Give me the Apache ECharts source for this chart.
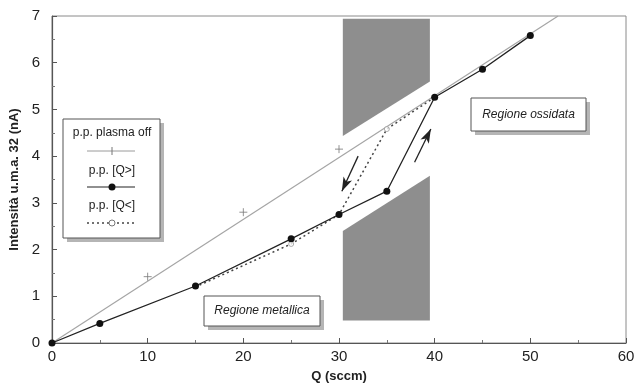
<!DOCTYPE html>
<html><head><meta charset="utf-8">
<script src="https://cdn.jsdelivr.net/npm/echarts@6/dist/echarts.min.js"></script>
<style>html,body{margin:0;padding:0;background:#fff}#c{width:637px;height:383px}</style>
</head><body><div id="c"></div>
<script>
// ---- data ----
var xTicks = [0, 10, 20, 30, 40, 50, 60];
var yTicks = [0, 1, 2, 3, 4, 5, 6, 7];
var plasmaOffX = [10, 20, 30];
var plasmaOffY = [1.42, 2.8, 4.15];
var plasmaFitX = [0, 52.9];
var plasmaFitY = [0, 7];
var qUpX = [0, 5, 15, 25, 30, 35, 40, 45, 50];
var qUpY = [0, 0.42, 1.22, 2.23, 2.75, 3.25, 5.26, 5.86, 6.58];
var qDownX = [40, 35, 30, 25, 15];
var qDownY = [5.26, 4.58, 2.75, 2.12, 1.2];
var qDownMarkX = [35, 25];
var qDownMarkY = [4.58, 2.12];
var shadeUpperX = [30.4, 39.5, 39.5, 30.4];
var shadeUpperY = [6.94, 6.94, 5.6, 4.43];
var shadeLowerX = [30.4, 39.5, 39.5, 30.4];
var shadeLowerY = [2.4, 3.58, 0.48, 0.48];
var arrowDown = [[32.0, 4.0], [30.3, 3.25]];
var arrowUp = [[37.9, 3.87], [39.6, 4.58]];

function zip(a, b) { return a.map(function (v, i) { return [v, b[i]]; }); }

var chart = echarts.init(document.getElementById('c'), null, {renderer: 'canvas'});
var font = 'Liberation Sans, Arial, sans-serif';

function polySeries(xs, ys) {
  return {
    type: 'custom', silent: true, z: 1,
    data: [[0]],
    renderItem: function (params, api) {
      var pts = xs.map(function (x, i) { return api.coord([x, ys[i]]); });
      return {type: 'polygon', shape: {points: pts}, style: {fill: '#8e8e8e'}};
    }
  };
}

function boxedText(x, y, w, h, txt, italic) {
  return [
    {type: 'rect', shape: {x: x + 4, y: y + 4, width: w, height: h}, style: {fill: '#b5b5b5'}, z: 10},
    {type: 'rect', shape: {x: x, y: y, width: w, height: h}, style: {fill: '#fff', stroke: '#555', lineWidth: 1}, z: 11},
    {type: 'text', x: x + w / 2, y: y + h / 2, z: 12,
      style: {text: txt, fill: '#222', font: (italic ? 'italic ' : '') + '12px ' + font, textAlign: 'center', textVerticalAlign: 'middle'}}
  ];
}

var legendEls = [].concat(
  boxedText(63, 119, 97, 119, '', false),
  [
    {type: 'text', x: 112, y: 133, z: 12, style: {text: 'p.p. plasma off', fill: '#222', font: '12px ' + font, textAlign: 'center', textVerticalAlign: 'middle'}},
    {type: 'line', shape: {x1: 87, y1: 151, x2: 135, y2: 151}, style: {stroke: '#9a9a9a', lineWidth: 1}, z: 12},
    {type: 'line', shape: {x1: 112, y1: 147, x2: 112, y2: 155}, style: {stroke: '#777', lineWidth: 1}, z: 12},
    {type: 'text', x: 112, y: 171, z: 12, style: {text: 'p.p. [Q>]', fill: '#222', font: '12px ' + font, textAlign: 'center', textVerticalAlign: 'middle'}},
    {type: 'line', shape: {x1: 87, y1: 187, x2: 135, y2: 187}, style: {stroke: '#222', lineWidth: 1.2}, z: 12},
    {type: 'circle', shape: {cx: 112, cy: 187, r: 3.5}, style: {fill: '#111'}, z: 12},
    {type: 'text', x: 112, y: 206, z: 12, style: {text: 'p.p. [Q<]', fill: '#222', font: '12px ' + font, textAlign: 'center', textVerticalAlign: 'middle'}},
    {type: 'line', shape: {x1: 87, y1: 223, x2: 135, y2: 223}, style: {stroke: '#444', lineWidth: 1.3, lineDash: [2, 3]}, z: 12},
    {type: 'circle', shape: {cx: 112, cy: 223, r: 3}, style: {fill: '#fff', stroke: '#777', lineWidth: 1}, z: 13}
  ],
  boxedText(471, 98, 115, 33, 'Regione ossidata', true),
  boxedText(204, 296, 116, 30, 'Regione metallica', true)
);

var option = {
  animation: false,
  backgroundColor: '#fff',
  grid: {left: 52, right: 11, top: 16, bottom: 40, show: true, borderColor: '#8a8a8a', borderWidth: 1,
    containLabel: false, outerBoundsMode: 'none'},
  xAxis: {
    type: 'value', min: xTicks[0], max: xTicks[xTicks.length - 1], interval: 10,
    name: 'Q (sccm)', nameLocation: 'middle', nameGap: 27,
    nameTextStyle: {fontFamily: font, fontSize: 13, fontWeight: 'bold', color: '#222'},
    axisLine: {lineStyle: {color: '#555', width: 1.2}},
    axisTick: {inside: true, length: 5, lineStyle: {color: '#555'}},
    minorTick: {show: true, splitNumber: 2, length: 3, lineStyle: {color: '#777'}},
    axisLabel: {fontFamily: font, fontSize: 15, color: '#222', margin: 6},
    splitLine: {show: false}
  },
  yAxis: {
    type: 'value', min: yTicks[0], max: yTicks[yTicks.length - 1], interval: 1,
    name: 'Intensità u.m.a. 32 (nA)', nameLocation: 'middle', nameGap: 28, nameRotate: 90,
    nameTextStyle: {fontFamily: font, fontSize: 13, fontWeight: 'bold', color: '#222'},
    axisLine: {show: true, lineStyle: {color: '#555', width: 1.2}},
    axisTick: {show: true, inside: true, length: 5, lineStyle: {color: '#555'}},
    minorTick: {show: true, splitNumber: 2, length: 3, lineStyle: {color: '#777'}},
    axisLabel: {fontFamily: font, fontSize: 15, color: '#222', margin: 12},
    splitLine: {show: false}
  },
  series: [
    polySeries(shadeUpperX, shadeUpperY),
    polySeries(shadeLowerX, shadeLowerY),
    {
      name: 'fit', type: 'line', data: zip(plasmaFitX, plasmaFitY), symbol: 'none', z: 3,
      lineStyle: {color: '#a5a5a5', width: 1.2}
    },
    {
      name: 'p.p. plasma off', type: 'scatter', data: zip(plasmaOffX, plasmaOffY), z: 4,
      symbol: 'path://M5,0L5,10M0,5L10,5', symbolSize: 8,
      itemStyle: {color: 'none', borderColor: '#777', borderWidth: 1}
    },
    {
      name: 'p.p. [Q<]', type: 'line', data: zip(qDownX, qDownY), z: 5,
      symbol: 'none',
      lineStyle: {color: '#444', width: 1.5, type: [2, 3]}
    },
    {
      name: 'hollow', type: 'scatter', data: zip(qDownMarkX, qDownMarkY), z: 5,
      symbol: 'circle', symbolSize: 5,
      itemStyle: {color: '#fff', borderColor: '#999', borderWidth: 1}
    },
    {
      name: 'p.p. [Q>]', type: 'line', data: zip(qUpX, qUpY), z: 6,
      symbol: 'circle', symbolSize: 7, showAllSymbol: true,
      lineStyle: {color: '#222', width: 1.3},
      itemStyle: {color: '#111'},
      markLine: {
        silent: true, symbol: ['none', 'arrow'], symbolSize: [7, 14],
        label: {show: false},
        lineStyle: {color: '#222', width: 1.3, type: 'solid'},
        data: [
          [{coord: arrowDown[0]}, {coord: arrowDown[1]}],
          [{coord: arrowUp[0]}, {coord: arrowUp[1]}]
        ]
      }
    }
  ],
  graphic: legendEls
};
chart.setOption(option);
</script>
</body></html>
